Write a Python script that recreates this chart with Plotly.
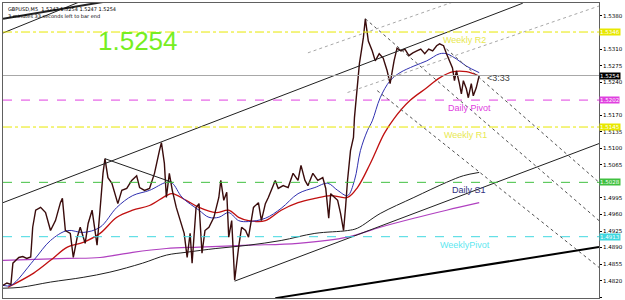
import plotly.graph_objects as go

# ---------------- data (bar index, price) ----------------
bar_x = [2, 6, 10, 12, 15, 18, 22, 26, 30, 32, 35, 40, 45, 50, 55, 60, 62, 65, 70, 73, 77, 80, 85, 88, 92, 95, 97,
         100, 103, 105, 108, 112, 115, 118, 122, 127, 132, 137, 140, 145, 150, 155, 160, 162, 165, 167, 170, 173,
         177, 182, 185, 188, 191, 193, 197, 200, 203, 206, 210, 215, 220, 222, 225, 228, 230, 233, 236, 240, 243,
         247, 250, 255, 260, 263, 267, 270, 273, 277, 280, 285, 290, 295, 300, 303, 307, 310, 315, 320, 325, 328,
         331, 333, 337, 340, 343, 346, 348, 350, 353, 356, 357, 360, 362, 364, 366, 368, 371, 375, 378, 382, 386,
         390, 393, 397, 400, 404, 408, 412, 416, 420, 424, 428, 432, 436, 440, 443, 447, 450, 453, 456, 458, 460,
         463, 465, 467, 470, 472, 475, 477, 480, 483]
price = [1.4810, 1.4815, 1.4812, 1.4857, 1.4863, 1.4869, 1.4871, 1.4867, 1.4870, 1.4933, 1.4969, 1.4975, 1.4964,
         1.4926, 1.4947, 1.4985, 1.4994, 1.4926, 1.4920, 1.4869, 1.4912, 1.4933, 1.4899, 1.4941, 1.4969, 1.4926,
         1.4895, 1.4969, 1.5047, 1.5078, 1.5038, 1.5026, 1.5004, 1.4983, 1.5011, 1.5015, 1.5032, 1.5042, 1.5017,
         1.5011, 1.5015, 1.5047, 1.5095, 1.5112, 1.5068, 1.4996, 1.5047, 1.5011, 1.4975, 1.4941, 1.4920, 1.4869,
         1.4920, 1.4857, 1.4975, 1.4983, 1.4878, 1.4926, 1.4933, 1.4954, 1.4996, 1.5032, 1.4990, 1.5007, 1.4912,
         1.4947, 1.4821, 1.4891, 1.4933, 1.4926, 1.4912, 1.4975, 1.4985, 1.4947, 1.4983, 1.4996, 1.5011, 1.5032,
         1.5015, 1.5021, 1.5017, 1.5047, 1.5032, 1.5064, 1.5032, 1.5021, 1.5047, 1.5032, 1.5038, 1.5015, 1.4952,
         1.5004, 1.4996, 1.4990, 1.4962, 1.4926, 1.4975, 1.5032, 1.5095, 1.5123, 1.5165, 1.5237, 1.5279, 1.5306,
         1.5334, 1.5374, 1.5327, 1.5306, 1.5285, 1.5300, 1.5291, 1.5264, 1.5237, 1.5285, 1.5312, 1.5306, 1.5310,
         1.5296, 1.5302, 1.5306, 1.5310, 1.5300, 1.5310, 1.5306, 1.5317, 1.5321, 1.5317, 1.5300, 1.5285, 1.5270,
         1.5243, 1.5264, 1.5237, 1.5215, 1.5243, 1.5226, 1.5207, 1.5237, 1.5211, 1.5228, 1.5254]

ma_blue_x = [2, 10, 33, 50, 67, 83, 100, 117, 133, 150, 167, 173, 183, 200, 210, 220, 230, 240, 250, 267, 283, 300,
             317, 330, 340, 350, 357, 363, 370, 375, 383, 393, 403, 417, 430, 443, 450, 460, 470, 483]
ma_blue = [1.4810, 1.4810, 1.4863, 1.4905, 1.4926, 1.4922, 1.4933, 1.4975, 1.5000, 1.5011, 1.5028, 1.5026, 1.4996,
           1.4969, 1.4954, 1.4954, 1.4964, 1.4947, 1.4945, 1.4952, 1.4973, 1.5004, 1.5017, 1.5026, 1.5011, 1.5000,
           1.5032, 1.5095, 1.5137, 1.5158, 1.5207, 1.5243, 1.5260, 1.5274, 1.5285, 1.5300, 1.5300, 1.5289, 1.5274,
           1.5260]

ma_red_x = [7, 33, 50, 67, 83, 100, 117, 133, 150, 167, 173, 187, 200, 217, 230, 240, 250, 267, 283, 300, 317, 333,
            350, 360, 373, 387, 397, 413, 430, 443, 457, 470, 483]
ma_red = [1.4806, 1.4836, 1.4863, 1.4891, 1.4901, 1.4920, 1.4954, 1.4969, 1.4979, 1.5000, 1.5004, 1.4990, 1.4975,
          1.4964, 1.4969, 1.4954, 1.4947, 1.4947, 1.4969, 1.4985, 1.4994, 1.5000, 1.4996, 1.5017, 1.5068, 1.5131,
          1.5163, 1.5201, 1.5228, 1.5249, 1.5262, 1.5262, 1.5253]

ma_black_x = [2, 20, 50, 83, 110, 143, 167, 187, 217, 250, 283, 317, 350, 360, 383, 417, 450, 467, 483]
ma_black = [1.4804, 1.4806, 1.4817, 1.4827, 1.4838, 1.4857, 1.4874, 1.4880, 1.4888, 1.4895, 1.4905, 1.4920,
            1.4926, 1.4931, 1.4962, 1.4996, 1.5028, 1.5042, 1.5049]

ma_mag_x = [2, 67, 100, 133, 167, 200, 250, 300, 350, 383, 417, 450, 483]
ma_mag = [1.4863, 1.4867, 1.4869, 1.4880, 1.4888, 1.4891, 1.4895, 1.4899, 1.4912, 1.4933, 1.4952, 1.4969, 1.4985]

# horizontal levels
level_names = ["Weekly R2", "Daily Pivot", "Weekly R1", "Daily S1", "WeeklyPivot"]
level_values = [1.5346, 1.5202, 1.5145, 1.5028, 1.4913]
level_colors = ["#E8E800", "#E040E0", "#E8E800", "#40C040", "#40D8E0"]
level_dash = ["dashdot", "dash", "dashdot", "dash", "dash"]
level_text_colors = ["#E8E850", "#E040E0", "#E8E850", "#303080", "#60E8F0"]
level_text_x = [468, 473, 469, 473, 469]
current_price = 1.5254

# trend lines: (x0, p0, x1, p1)
solid_lines = [(2, 1.4985, 527, 1.5407), (236, 1.4819, 604, 1.5110), (105, 1.5078, 173, 1.5028),
               (2, 1.5374, 110, 1.5412), (2, 1.5344, 82, 1.5412)]
solid_widths = [1, 1, 1, 2, 1]
thick_line = (277, 1.4783, 604, 1.4891)
dotted_lines = [(368, 1.5374, 604, 1.4947), (450, 1.5310, 604, 1.5028), (380, 1.5222, 604, 1.4848)]
gray_dotted_lines = [(350, 1.5218, 604, 1.5401), (310, 1.5302, 460, 1.5412)]

tick_vals = [1.5380, 1.5310, 1.5275, 1.5240, 1.5170, 1.5135, 1.5100, 1.5065, 1.4995, 1.4960, 1.4925, 1.4890,
             1.4855, 1.4820, 1.4785]
y_range = [1.47833, 1.54074]
x_range = [2, 604]

fig = go.Figure()
for xs, ys, col, w in [(ma_mag_x, ma_mag, "#B040C0", 1.2), (ma_black_x, ma_black, "#202020", 1.0),
                       (ma_red_x, ma_red, "#C01010", 1.3), (ma_blue_x, ma_blue, "#3030B0", 1.0)]:
    fig.add_trace(go.Scatter(x=xs, y=ys, mode="lines", line=dict(color=col, width=w, shape="spline"),
                             hoverinfo="skip", showlegend=False))
fig.add_trace(go.Scatter(x=bar_x, y=price, mode="lines", line=dict(color="#3A0C0C", width=1.4),
                         showlegend=False))

for (x0, y0, x1, y1), w in zip(solid_lines, solid_widths):
    fig.add_shape(type="line", x0=x0, y0=y0, x1=x1, y1=y1, line=dict(color="#202020", width=w))
x0, y0, x1, y1 = thick_line
fig.add_shape(type="line", x0=x0, y0=y0, x1=x1, y1=y1, line=dict(color="#000000", width=2))
for x0, y0, x1, y1 in dotted_lines:
    fig.add_shape(type="line", x0=x0, y0=y0, x1=x1, y1=y1, line=dict(color="#505050", width=1, dash="dot"))
for x0, y0, x1, y1 in gray_dotted_lines:
    fig.add_shape(type="line", x0=x0, y0=y0, x1=x1, y1=y1, line=dict(color="#A8A8A8", width=1, dash="dot"))

fig.add_hline(y=current_price, line=dict(color="#A8A8A8", width=1))
for name, v, c, d, tc, tx in zip(level_names, level_values, level_colors, level_dash, level_text_colors,
                                 level_text_x):
    fig.add_hline(y=v, line=dict(color=c, width=1, dash=d))
    fig.add_annotation(x=tx, y=v, text=name, showarrow=False, yanchor="top", yshift=-1,
                       font=dict(family="Liberation Sans, Arial", size=9, color=tc))
    fig.add_annotation(xref="paper", x=1, y=v, text=f"{v:.4f}", showarrow=False, xanchor="left",
                       bgcolor=c, borderpad=0, font=dict(family="DejaVu Sans", size=5.5, color="#FFFFFF"))
fig.add_annotation(xref="paper", x=1, y=current_price, text=f"{current_price:.4f}", showarrow=False,
                   xanchor="left", bgcolor="#000000", borderpad=0,
                   font=dict(family="DejaVu Sans", size=5.5, color="#FFFFFF"))

fig.add_annotation(x=bar_x[-1], y=current_price, text="<3:33", showarrow=False, xanchor="left", xshift=6,
                   yanchor="middle", yshift=-2, font=dict(family="Liberation Sans, Arial", size=9, color="#404040"))
fig.add_annotation(x=138, y=1.5327, text="1.5254", showarrow=False,
                   font=dict(family="Liberation Sans, Arial", size=26, color="#77EE22"))
fig.add_annotation(xref="paper", yref="paper", x=0.005, y=0.995, xanchor="left", yanchor="top", align="left",
                   text="GBPUSD,M5  1.5247 1.5254 1.5247 1.5254<br>3 minutes 33 seconds left to bar end",
                   showarrow=False, font=dict(family="DejaVu Sans", size=5, color="#000000"))

fig.update_layout(width=625, height=300, margin=dict(l=2, r=21, t=2, b=2), paper_bgcolor="white",
                  plot_bgcolor="white")
fig.update_xaxes(range=x_range, showgrid=False, zeroline=False, showticklabels=False, showline=True,
                 mirror=True, linecolor="#606060", linewidth=1)
fig.update_yaxes(range=y_range, side="right", showgrid=False, zeroline=False, tickvals=tick_vals,
                 tickformat=".4f", ticks="outside", ticklen=2, tickcolor="#000", showline=True, mirror=True,
                 linecolor="#606060", linewidth=1,
                 tickfont=dict(family="DejaVu Sans", size=5.5, color="#000000"))
fig.write_html("out.html")
